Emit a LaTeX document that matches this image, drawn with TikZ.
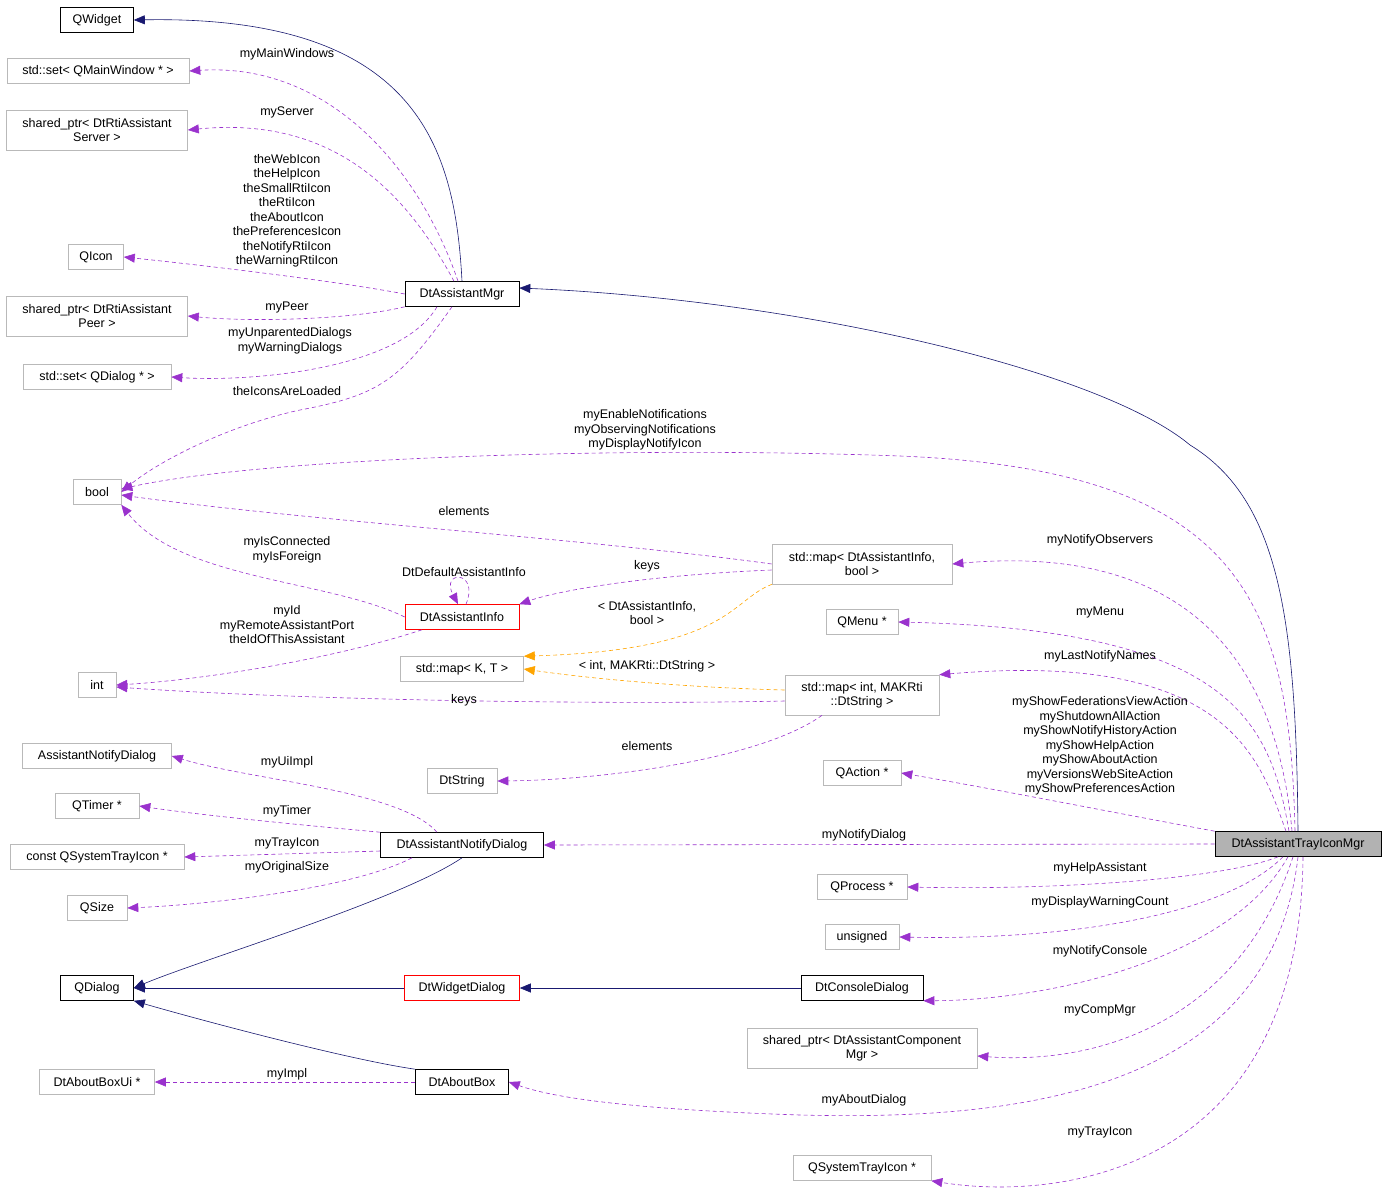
\documentclass[tikz,border=0pt]{standalone}
\usepackage{fontspec}
\setmainfont{Liberation Sans}
\usetikzlibrary{arrows.meta}
\definecolor{navy}{HTML}{191970}
\definecolor{purp}{HTML}{9A32CD}
\definecolor{orng}{HTML}{FFA500}
\begin{document}
\begin{tikzpicture}[x=1pt,y=-1pt,
  box/.style={draw=gray!55, semithick, rectangle, minimum height=25pt, inner xsep=2pt, inner ysep=2pt, font=\fontsize{12.5}{14}\selectfont, align=center},
  blk/.style={box, draw=black},
  rd/.style={box, draw=red},
  hl/.style={box, draw=black, fill=gray!60},
  w/.style={minimum width=#1pt},
  tall/.style={minimum height=40pt},
  inh/.style={navy, semithick, -{Triangle[length=11pt,width=9pt]}},
  mem/.style={purp, semithick, dashed, dash pattern=on 4pt off 3pt, -{Triangle[length=11pt,width=9pt]}},
  tmpl/.style={orng, semithick, dashed, dash pattern=on 4pt off 3pt, -{Triangle[length=11pt,width=9pt]}},
  lbl/.style={font=\fontsize{12.5}{14.5}\selectfont, align=center, inner sep=0pt}]
\useasboundingbox (0,0) rectangle (1387,1196);
% left column
\node[blk,w=73] (qw) at (97,20) {QWidget};
\node[box,w=182] (smw) at (98,71) {std::set< QMainWindow * >};
\node[box,w=181,tall] (srv) at (97,130) {shared\_ptr< DtRtiAssistant\\Server >};
\node[box,w=55] (qicon) at (96,257) {QIcon};
\node[box,w=181,tall] (peer) at (97,316) {shared\_ptr< DtRtiAssistant\\Peer >};
\node[box,w=148] (sqd) at (97,377) {std::set< QDialog * >};
\node[box,w=48] (bool) at (97,492) {bool};
\node[box,w=38] (int) at (97,685) {int};
\node[box,w=149] (and) at (97,756) {AssistantNotifyDialog};
\node[box,w=84] (qt) at (97,806) {QTimer *};
\node[box,w=174] (cqs) at (97,857) {const QSystemTrayIcon *};
\node[box,w=60] (qsize) at (97,908) {QSize};
\node[blk,w=73] (qd) at (97,988) {QDialog};
\node[box,w=115] (abui) at (97,1082) {DtAboutBoxUi *};
% middle column
\node[blk,w=114] (mgr) at (462,294) {DtAssistantMgr};
\node[rd,w=114] (ainfo) at (462,617) {DtAssistantInfo};
\node[box,w=123] (mkt) at (462,669) {std::map< K, T >};
\node[box,w=70] (dts) at (462,781) {DtString};
\node[blk,w=163] (dnd) at (462,845) {DtAssistantNotifyDialog};
\node[rd,w=115] (wd) at (462,988) {DtWidgetDialog};
\node[blk,w=93] (ab) at (462,1082) {DtAboutBox};
% right column
\node[box,w=180,tall] (map1) at (862,564) {std::map< DtAssistantInfo,\\bool >};
\node[box,w=72] (qmenu) at (862,622) {QMenu *};
\node[box,w=154,tall] (map2) at (862,695) {std::map< int, MAKRti\\::DtString >};
\node[box,w=78] (qact) at (862,773) {QAction *};
\node[box,w=90] (qproc) at (862,887) {QProcess *};
\node[box,w=74] (uns) at (862,937) {unsigned};
\node[blk,w=122] (cons) at (862,988) {DtConsoleDialog};
\node[box,w=230,tall] (comp) at (862,1048) {shared\_ptr< DtAssistantComponent\\Mgr >};
\node[box,w=138] (qsti) at (862,1168) {QSystemTrayIcon *};
\node[hl,w=166] (tray) at (1298,844) {DtAssistantTrayIconMgr};

% inheritance
\draw[inh] (mgr.north) .. controls (455,150) and (420,15) .. (qw.east);
\draw[inh] (tray.north) .. controls (1296,620) and (1280,500) .. (1190,445) .. controls (1100,370) and (800,300) .. ([yshift=6pt]mgr.east);
\draw[inh] (dnd.south) .. controls (400,900) and (200,960) .. (qd.east);
\draw[inh] (wd.west) -- (qd.east);
\draw[inh] (cons.west) -- (wd.east);
\draw[inh] (ab.north west) .. controls (350,1060) and (200,1020) .. (qd.south east);

% members of DtAssistantMgr
\draw[mem] ([xshift=-4pt]mgr.north) .. controls (420,170) and (330,62) .. (smw.east);
\node[lbl] (l1) at (287,54) {myMainWindows};
\draw[mem] ([xshift=-8pt]mgr.north) .. controls (410,200) and (340,115) .. (srv.east);
\node[lbl] (l2) at (287,112) {myServer};
\draw[mem] (mgr.west) .. controls (330,280) and (200,265) .. (qicon.east);
\node[lbl] (l3) at (287,211) {theWebIcon\\theHelpIcon\\theSmallRtiIcon\\theRtiIcon\\theAboutIcon\\thePreferencesIcon\\theNotifyRtiIcon\\theWarningRtiIcon};
\draw[mem] (mgr.south west) .. controls (350,320) and (250,322) .. (peer.east);
\node[lbl] (l4) at (287,307) {myPeer};
\draw[mem] ([xshift=-25pt]mgr.south) .. controls (400,370) and (250,382) .. (sqd.east);
\node[lbl] (l5) at (290,341) {myUnparentedDialogs\\myWarningDialogs};
\draw[mem] ([xshift=-10pt]mgr.south) .. controls (400,380) and (380,395) .. (300,410) .. controls (230,425) and (160,460) .. (bool.east);
\node[lbl] (l6) at (287,391) {theIconsAreLoaded};

% tray to bool
\draw[mem] ([xshift=-3pt]tray.north) .. controls (1290,600) and (1240,470) .. (900,456) .. controls (600,445) and (250,460) .. ([yshift=3pt]bool.east);
\node[lbl] (l7) at (645,430) {myEnableNotifications\\myObservingNotifications\\myDisplayNotifyIcon};
\draw[mem] (map1.west) .. controls (600,540) and (300,520) .. ([yshift=-3pt]bool.east);
\node[lbl] (l8) at (464,511) {elements};
\draw[mem] (ainfo.west) .. controls (330,580) and (180,580) .. (bool.south east);
\node[lbl] (l9) at (287,550) {myIsConnected\\myIsForeign};
\draw[mem] ([xshift=4pt]ainfo.north) .. controls (480,570) and (440,570) .. ([xshift=-4pt]ainfo.north);
\node[lbl] (l10) at (464,572) {DtDefaultAssistantInfo};
\draw[mem] ([yshift=-6pt]map1.west) .. controls (650,575) and (560,590) .. (ainfo.north east);
\node[lbl] (l11) at (647,566) {keys};
\draw[mem] ([xshift=-40pt]ainfo.south) .. controls (330,660) and (200,680) .. (int.east);
\node[lbl] (l12) at (287,625) {myId\\myRemoteAssistantPort\\theIdOfThisAssistant};
\draw[mem] ([yshift=-6pt]map2.west) .. controls (600,705) and (300,700) .. ([yshift=-2pt]int.east);
\node[lbl] (l13) at (464,700) {keys};
\draw[tmpl] ([xshift=-90pt]map1.south) .. controls (730,600) and (730,650) .. (mkt.north east);
\node[lbl] (l14) at (647,613) {< DtAssistantInfo,\\bool >};
\draw[tmpl] ([yshift=5pt]map2.west) .. controls (700,688) and (600,680) .. (mkt.east);
\node[lbl] (l15) at (647,666) {< int, MAKRti::DtString >};
\draw[mem] ([xshift=-40pt]map2.south) .. controls (760,760) and (600,780) .. (dts.east);
\node[lbl] (l16) at (647,746) {elements};

% tray members
\draw[mem] ([xshift=-6pt]tray.north) .. controls (1280,700) and (1220,540) .. (map1.east);
\node[lbl] (l17) at (1100,540) {myNotifyObservers};
\draw[mem] ([xshift=-9pt]tray.north) .. controls (1270,720) and (1230,630) .. (qmenu.east);
\node[lbl] (l18) at (1100,612) {myMenu};
\draw[mem] ([xshift=-12pt]tray.north) .. controls (1260,760) and (1230,650) .. (map2.north east);
\node[lbl] (l19) at (1100,656) {myLastNotifyNames};
\draw[mem] (tray.north west) .. controls (1100,810) and (1000,790) .. (qact.east);
\node[lbl] (l20) at (1100,746) {myShowFederationsViewAction\\myShutdownAllAction\\myShowNotifyHistoryAction\\myShowHelpAction\\myShowAboutAction\\myVersionsWebSiteAction\\myShowPreferencesAction};
\draw[mem] (tray.west) -- (dnd.east);
\node[lbl] (l21) at (864,835) {myNotifyDialog};
\draw[mem] ([xshift=-20pt]tray.south) .. controls (1220,880) and (1050,890) .. (qproc.east);
\node[lbl] (l22) at (1100,868) {myHelpAssistant};
\draw[mem] ([xshift=-15pt]tray.south) .. controls (1220,920) and (1050,940) .. (uns.east);
\node[lbl] (l23) at (1100,902) {myDisplayWarningCount};
\draw[mem] ([xshift=-10pt]tray.south) .. controls (1230,960) and (1050,1000) .. (cons.south east);
\node[lbl] (l24) at (1100,951) {myNotifyConsole};
\draw[mem] ([xshift=-5pt]tray.south) .. controls (1240,1020) and (1100,1065) .. ([yshift=-8pt]comp.east);
\node[lbl] (l25) at (1100,1010) {myCompMgr};
\draw[mem] (tray.south) .. controls (1270,1100) and (1000,1120) .. (800,1115) .. controls (650,1110) and (560,1100) .. (ab.east);
\node[lbl] (l26) at (864,1100) {myAboutDialog};
\draw[mem] ([xshift=5pt]tray.south) .. controls (1300,1180) and (1050,1200) .. (qsti.south east);
\node[lbl] (l27) at (1100,1132) {myTrayIcon};

% notify dialog members
\draw[mem] ([xshift=-25pt]dnd.north) .. controls (400,790) and (250,780) .. (and.east);
\node[lbl] (l28) at (287,762) {myUiImpl};
\draw[mem] (dnd.north west) .. controls (300,825) and (200,815) .. (qt.east);
\node[lbl] (l29) at (287,811) {myTimer};
\draw[mem] ([yshift=-6pt]dnd.west) -- (cqs.east);
\node[lbl] (l30) at (287,843) {myTrayIcon};
\draw[mem] ([xshift=-50pt]dnd.south) .. controls (350,890) and (200,905) .. (qsize.east);
\node[lbl] (l31) at (287,867) {myOriginalSize};
\draw[mem] (ab.west) -- (abui.east);
\node[lbl] (l32) at (287,1074) {myImpl};
\end{tikzpicture}
\end{document}
